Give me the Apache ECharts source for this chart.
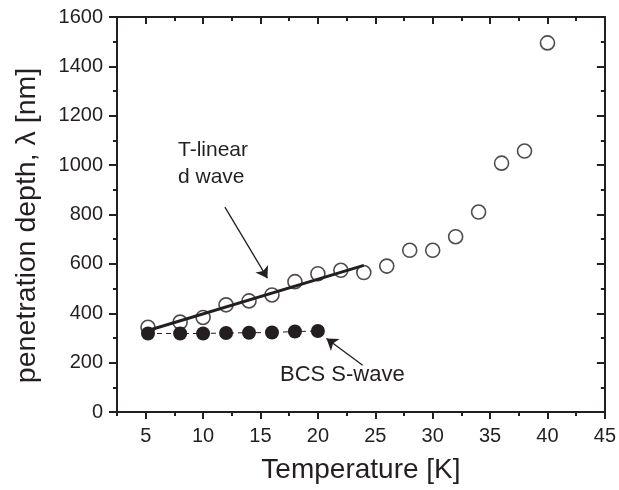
<!DOCTYPE html>
<html><head><meta charset="utf-8">
<script src="https://cdn.jsdelivr.net/npm/echarts@6/dist/echarts.min.js"></script>
<style>html,body{margin:0;padding:0;background:#fff}#c{width:619px;height:490px}</style>
</head><body><div id="c"></div>
<script>
const openT = [5.2, 8, 10, 12, 14, 16, 18, 20, 22, 24, 26, 28, 30, 32, 34, 36, 38, 40];
const openL = [343, 364, 383, 434, 450, 474, 528, 560, 574, 565, 591, 655, 655, 710, 810, 1008, 1057, 1495];
const filledT = [5.2, 8, 10, 12, 14, 16, 18, 20];
const filledL = [318, 318, 318, 320, 321, 322, 326, 328];
const fitT = [5.2, 24];
const fitL = [330, 594];
const xMajor = [5, 10, 15, 20, 25, 30, 35, 40, 45];
const xMinor = [2.5, 7.5, 12.5, 17.5, 22.5, 27.5, 32.5, 37.5, 42.5];
const arrowD = [[11.9, 830], [15.6, 542]];
const arrowS = [[23.9, 189], [20.75, 298]];

const FONT = '"Liberation Sans", Arial, Helvetica, sans-serif';
const INK = '#231f20';
const zip = (a, b) => a.map((v, i) => [v, b[i]]);

const chart = echarts.init(document.getElementById('c'), null, {renderer: 'canvas'});
const baseX = {type: 'value', min: 2.5, max: 45, splitLine: {show: false}};
const line = {show: true, lineStyle: {color: INK, width: 2}};
chart.setOption({
  animation: false,
  backgroundColor: '#fff',
  grid: {left: 117, right: 13, top: 17, bottom: 78, containLabel: false},
  xAxis: [
    Object.assign({}, baseX, {position: 'bottom', axisLine: line,
      name: 'Temperature [K]', nameLocation: 'middle', nameGap: 44,
      nameTextStyle: {fontFamily: FONT, fontSize: 28, color: INK},
      axisTick: {show: true, inside: false, length: 7, lineStyle: {color: INK, width: 2}, customValues: xMajor},
      axisLabel: {show: true, margin: 14, fontFamily: FONT, fontSize: 20, color: INK, customValues: xMajor}}),
    Object.assign({}, baseX, {position: 'bottom', axisLine: {show: false},
      axisTick: {show: true, inside: false, length: 4, lineStyle: {color: INK, width: 2}, customValues: xMinor},
      axisLabel: {show: false}}),
    Object.assign({}, baseX, {position: 'top', axisLine: line,
      axisTick: {show: true, inside: true, length: 7, lineStyle: {color: INK, width: 2}, customValues: xMajor},
      axisLabel: {show: false}}),
    Object.assign({}, baseX, {position: 'top', axisLine: {show: false},
      axisTick: {show: true, inside: true, length: 4, lineStyle: {color: INK, width: 2}, customValues: xMinor},
      axisLabel: {show: false}})
  ],
  yAxis: [
    {type: 'value', min: 0, max: 1600, interval: 200, position: 'left', axisLine: line,
      name: 'penetration depth, \u03bb [nm]', nameLocation: 'middle', nameGap: 75,
      nameTextStyle: {fontFamily: FONT, fontSize: 28.5, color: INK, padding: [0, 22, 0, 0]},
      splitLine: {show: false},
      axisTick: {show: true, inside: false, length: 8, lineStyle: {color: INK, width: 2}},
      minorTick: {show: true, splitNumber: 2, length: 4, lineStyle: {color: INK, width: 2}},
      axisLabel: {show: true, margin: 14, fontFamily: FONT, fontSize: 20, color: INK,
        formatter: v => String(v)}},
    {type: 'value', min: 0, max: 1600, interval: 200, position: 'right', axisLine: line,
      splitLine: {show: false},
      axisTick: {show: true, inside: true, length: 8, lineStyle: {color: INK, width: 2}},
      minorTick: {show: true, splitNumber: 2, length: 4, lineStyle: {color: INK, width: 2}},
      axisLabel: {show: false}}
  ],
  series: [
    {type: 'scatter', xAxisIndex: 0, yAxisIndex: 0, data: zip(openT, openL), z: 2,
      symbol: 'circle', symbolSize: 14,
      itemStyle: {color: 'rgba(255,255,255,0)', borderColor: INK, borderWidth: 1.6}},
    {type: 'line', xAxisIndex: 0, yAxisIndex: 0, data: zip(filledT, filledL), z: 3,
      symbol: 'circle', symbolSize: 14, showSymbol: true,
      lineStyle: {color: INK, width: 1, type: [5, 4]},
      itemStyle: {color: INK, borderColor: INK, borderWidth: 0}},
    {type: 'line', xAxisIndex: 0, yAxisIndex: 0, data: zip(fitT, fitL), z: 4,
      symbol: 'none', lineStyle: {color: INK, width: 3},
      markLine: {silent: true, symbol: ['none', 'arrow'], symbolSize: 11,
        label: {show: false}, lineStyle: {color: INK, width: 1.3, type: 'solid'},
        data: [
          [{coord: arrowD[0]}, {coord: arrowD[1]}],
          [{coord: arrowS[0]}, {coord: arrowS[1]}]
        ]}}
  ],
  graphic: [
    {type: 'text', left: 178, top: 140, style: {text: 'T-linear', fontFamily: FONT, fontSize: 21, fill: INK}},
    {type: 'text', left: 178, top: 167, style: {text: 'd wave', fontFamily: FONT, fontSize: 21, fill: INK}},
    {type: 'text', left: 280, top: 364, style: {text: 'BCS S-wave', fontFamily: FONT, fontSize: 22, fill: INK}}
  ]
});
</script></body></html>
